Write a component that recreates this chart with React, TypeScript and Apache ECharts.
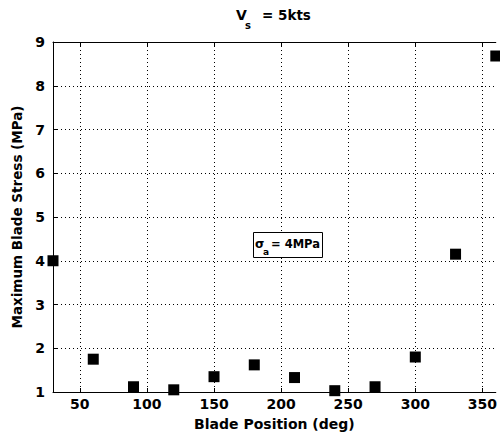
import React, { useEffect, useRef } from "react";
import * as echarts from "echarts";

const bladePositions = [30, 60, 90, 120, 150, 180, 210, 240, 270, 300, 330, 360];
const maxStress = [4.0, 1.75, 1.12, 1.05, 1.35, 1.62, 1.33, 1.03, 1.12, 1.8, 4.15, 8.68];
const xTicks = [50, 100, 150, 200, 250, 300, 350];

const FONT = "DejaVu Sans";

function txt(text: string, x: number, y: number, size: number) {
  return {
    type: "text",
    x,
    y,
    z: 101,
    style: {
      text,
      fontFamily: FONT,
      fontWeight: "bold",
      fontSize: size,
      fill: "#000",
      align: "left",
      verticalAlign: "middle",
    },
  };
}

export default function App() {
  const ref = useRef<HTMLDivElement>(null);
  useEffect(() => {
    if (!ref.current) return;
    const chart = echarts.init(ref.current, undefined, { renderer: "svg" });
    const axisText = { color: "#000", fontFamily: FONT, fontWeight: "bold" as const, fontSize: 14 };
    chart.setOption({
      animation: false,
      backgroundColor: "#fff",
      grid: { left: 53, right: 2, top: 42, bottom: 48, containLabel: false },
      xAxis: [
        {
          type: "value",
          min: 30,
          max: 360,
          position: "bottom",
          name: "Blade Position (deg)",
          nameLocation: "middle",
          nameGap: 25,
          nameTextStyle: { ...axisText, fontSize: 14 },
          axisLine: { show: true, onZero: false, lineStyle: { color: "#000", width: 1 } },
          axisTick: { show: true, inside: true, length: 4, customValues: xTicks, lineStyle: { color: "#000" } },
          axisLabel: { ...axisText, margin: 5, customValues: xTicks },
          splitLine: { show: true, lineStyle: { color: "#000", type: [1, 3], width: 1 } },
        },
        {
          type: "value",
          min: 30,
          max: 360,
          position: "top",
          axisLine: { show: true, onZero: false, lineStyle: { color: "#000", width: 1 } },
          axisTick: { show: true, inside: true, length: 4, customValues: xTicks, lineStyle: { color: "#000" } },
          axisLabel: { show: false },
          splitLine: { show: false },
        },
      ],
      yAxis: {
        type: "value",
        min: 1,
        max: 9,
        interval: 1,
        name: "Maximum Blade Stress (MPa)",
        nameLocation: "middle",
        nameGap: 25,
        nameTextStyle: { ...axisText, fontSize: 13.5 },
        axisLine: { show: true, onZero: false, lineStyle: { color: "#000", width: 1 } },
        axisTick: { show: true, inside: true, length: 4, lineStyle: { color: "#000" } },
        axisLabel: { ...axisText, margin: 8 },
        splitLine: { show: true, lineStyle: { color: "#000", type: [1, 3], width: 1 } },
      },
      graphic: [
        // title: V_s = 5kts
        txt("V", 236, 15, 14),
        txt("s", 245, 25, 10),
        txt("= 5kts", 262, 15, 13.5),
        // annotation box: σ_a = 4MPa
        {
          type: "rect",
          z: 100,
          shape: { x: 253.5, y: 232.5, width: 69, height: 25 },
          style: { fill: "#fff", stroke: "#000", lineWidth: 1 },
        },
        txt("σ", 255, 244, 12),
        txt("a", 263, 252, 9),
        txt("= 4MPa", 271, 244, 11.5),
      ],
      series: [
        {
          type: "scatter",
          xAxisIndex: 0,
          data: bladePositions.map((x, i) => [x, maxStress[i]]),
          symbol: "rect",
          symbolSize: 11,
          clip: false,
          itemStyle: { color: "#000", opacity: 1 },
        },
      ],
    });
    return () => chart.dispose();
  }, []);
  return <div ref={ref} style={{ width: 500, height: 440, position: "absolute", left: 0, top: 0 }} />;
}
